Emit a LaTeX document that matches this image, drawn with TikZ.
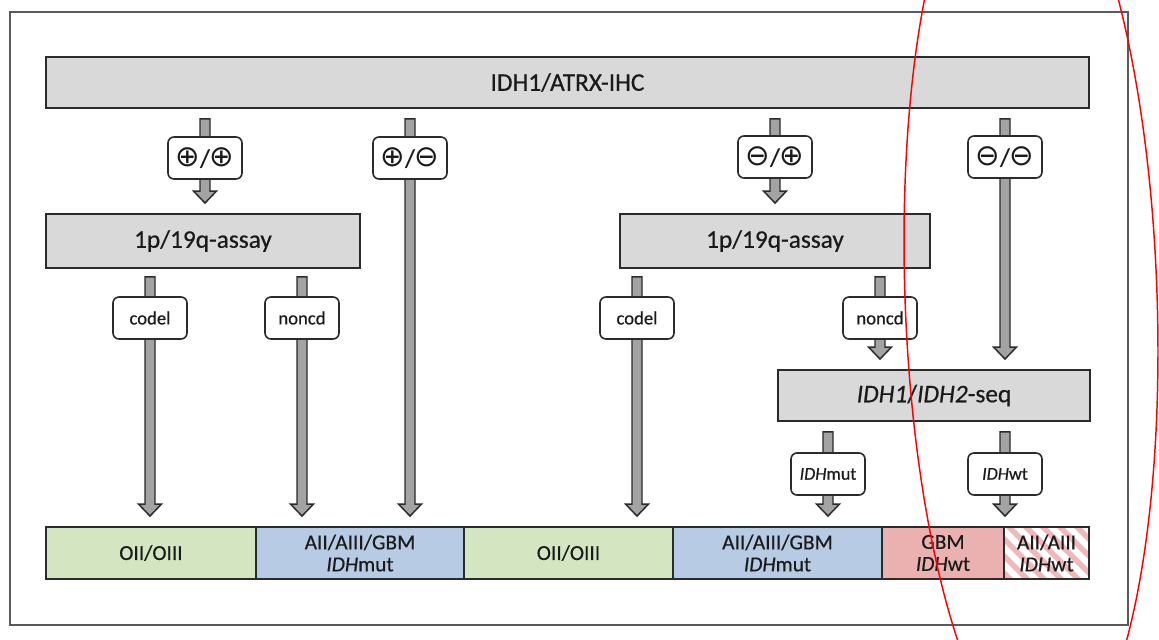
\documentclass[tikz,border=0pt]{standalone}
\usepackage{fontspec}
\setmainfont{Carlito}[FakeBold=0.5]
\newfontfamily\symfont{DejaVu Sans}
\usetikzlibrary{calc}

\definecolor{ink}{HTML}{1A1A1A}
\definecolor{edge}{HTML}{2B2B2B}
\definecolor{framecol}{HTML}{5A5A5A}
\definecolor{boxgray}{HTML}{D9D9D9}
\definecolor{shaft}{HTML}{A3A3A3}
\definecolor{oligo}{HTML}{D3E6C1}
\definecolor{astro}{HTML}{B7CCE4}
\definecolor{gbm}{HTML}{EBB1B1}
\definecolor{stripe}{HTML}{F0B9B9}

% thick hollow down-arrow between two named points
\newcommand\fatarrowdraw[2]{%
  \draw[fatarrow] ($(#1)+(-5,0)$) -- ($(#2)+(-5,-12)$) -- ($(#2)+(-11.5,-12)$)
    -- (#2) -- ($(#2)+(11.5,-12)$) -- ($(#2)+(5,-12)$) -- ($(#1)+(5,0)$) -- cycle;}

\newcommand\plussign{{\symfont\fontsize{22}{24}\selectfont ⊕}}
\newcommand\minussign{{\symfont\fontsize{22}{24}\selectfont ⊖}}
\newcommand\signpair[2]{#1/#2}

\begin{document}
\begin{tikzpicture}[x=0.75pt,y=-0.75pt,
  stagebox/.style={draw=edge, fill=boxgray, line width=1.4pt, text=ink,
    font=\fontsize{19}{22}\selectfont, inner sep=0pt},
  tag/.style={draw=edge, fill=white, line width=1.2pt, rounded corners=4.5pt,
    text=ink, inner sep=0pt, minimum width=74*0.75pt, minimum height=42*0.75pt},
  signtag/.style={tag, font=\fontsize{19}{20}\selectfont},
  texttag/.style={tag, font=\fontsize{14}{16}\selectfont},
  idhtag/.style={tag, font=\fontsize{13.5}{16}\selectfont},
  segment/.style={draw=edge, line width=1.4pt, text=ink, inner sep=0pt,
    align=center, font=\fontsize{16}{16.5}\selectfont, minimum height=52*0.75pt},
  fatarrow/.style={draw=edge, fill=shaft, line width=1.1pt, line join=miter}
]
\useasboundingbox (0,0) rectangle (1159,639);
\fill[white] (0,0) rectangle (1159,639);
\draw[framecol, line width=1.3pt] (10,12) rectangle (1128,625);

% ---- stage boxes ----
\node[stagebox, minimum width=1043*0.75pt, minimum height=51*0.75pt] (ihc) at (567.5,82.5) {IDH1/ATRX-IHC};
\node[stagebox, minimum width=314*0.75pt, minimum height=54*0.75pt] (assayL) at (203,241) {1p/19q-assay};
\node[stagebox, minimum width=310*0.75pt, minimum height=54*0.75pt] (assayR) at (775,241) {1p/19q-assay};
\node[stagebox, minimum width=312*0.75pt, minimum height=51*0.75pt] (seq) at (934,395.5) {\textit{IDH1}/\textit{IDH2}-seq};

% ---- diagnosis bar ----
\node[segment, fill=oligo, minimum width=210*0.75pt] (seg1) at (151,553) {OII/OIII};
\node[segment, fill=astro, minimum width=208*0.75pt] (seg2) at (360,553) {AII/AIII/GBM\\\textit{IDH}mut};
\node[segment, fill=oligo, minimum width=209*0.75pt] (seg3) at (568.5,553) {OII/OIII};
\node[segment, fill=astro, minimum width=209*0.75pt] (seg4) at (777.5,553) {AII/AIII/GBM\\\textit{IDH}mut};
\node[segment, fill=gbm, minimum width=122*0.75pt] (seg5) at (943,553) {GBM\\\textit{IDH}wt};
\node[segment, fill=white, minimum width=85*0.75pt,
  path picture={\foreach \k in {-6,...,6}
    \draw[stripe, line width=4pt] ($(path picture bounding box.north west)+(\k*17,-5)$) -- ++(80,80);}]
  (seg6) at (1046.5,553) {AII/AIII\\\textit{IDH}wt};

% ---- arrow columns ----
\coordinate (c1) at (205,0);
\coordinate (c2) at (410,0);
\coordinate (c3) at (775,0);
\coordinate (c4) at (1005,0);
\coordinate (d1) at (150,0);
\coordinate (d2) at (302,0);
\coordinate (d3) at (637,0);
\coordinate (d4) at (880,0);
\coordinate (e1) at (828,0);

% IHC outcomes
\coordinate (a1s) at ($(ihc.south -| c1)+(0,10)$);
\coordinate (a1e) at ($(assayL.north -| c1)+(0,-10)$);
\coordinate (a2s) at ($(ihc.south -| c2)+(0,10)$);
\coordinate (a2e) at ($(seg2.north -| c2)+(0,-10)$);
\coordinate (a3s) at ($(ihc.south -| c3)+(0,10)$);
\coordinate (a3e) at ($(assayR.north -| c3)+(0,-10)$);
\coordinate (a4s) at ($(ihc.south -| c4)+(0,10)$);
\coordinate (a4e) at ($(seq.north -| c4)+(0,-10)$);
% 1p/19q outcomes
\coordinate (b1s) at ($(assayL.south -| d1)+(0,8)$);
\coordinate (b1e) at ($(seg1.north -| d1)+(0,-10)$);
\coordinate (b2s) at ($(assayL.south -| d2)+(0,8)$);
\coordinate (b2e) at ($(seg2.north -| d2)+(0,-10)$);
\coordinate (b3s) at ($(assayR.south -| d3)+(0,8)$);
\coordinate (b3e) at ($(seg3.north -| d3)+(0,-10)$);
\coordinate (b4s) at ($(assayR.south -| d4)+(0,8)$);
\coordinate (b4e) at ($(seq.north -| d4)+(0,-10)$);
% sequencing outcomes
\coordinate (f1s) at ($(seq.south -| e1)+(0,10)$);
\coordinate (f1e) at ($(seg4.north -| e1)+(0,-10)$);
\coordinate (f2s) at ($(seq.south -| c4)+(0,10)$);
\coordinate (f2e) at ($(seg5.north -| c4)+(0,-10)$);

\fatarrowdraw{a1s}{a1e}
\fatarrowdraw{a2s}{a2e}
\fatarrowdraw{a3s}{a3e}
\fatarrowdraw{a4s}{a4e}
\fatarrowdraw{b1s}{b1e}
\fatarrowdraw{b2s}{b2e}
\fatarrowdraw{b3s}{b3e}
\fatarrowdraw{b4s}{b4e}
\fatarrowdraw{f1s}{f1e}
\fatarrowdraw{f2s}{f2e}

% ---- outcome tags ----
\node[signtag] (pp) at (205,158) {\signpair{\plussign}{\plussign}};
\node[signtag] (pm) at (410,158) {\signpair{\plussign}{\minussign}};
\node[signtag] (mp) at (775,157) {\signpair{\minussign}{\plussign}};
\node[signtag] (mm) at (1005,157) {\signpair{\minussign}{\minussign}};
\node[texttag] (cod1) at (150,318) {codel};
\node[texttag] (non1) at (302,318) {noncd};
\node[texttag] (cod2) at (637,318) {codel};
\node[texttag] (non2) at (880,318) {noncd};
\node[idhtag] (mut) at (828,474) {\textit{IDH}mut};
\node[idhtag] (wt) at (1005,474) {\textit{IDH}wt};

% ---- hand-drawn highlight ----
\draw[red, line width=1.1pt, rotate around={2:(1031,296)}] (1031,296) ellipse [x radius=126, y radius=464];
\end{tikzpicture}
\end{document}
